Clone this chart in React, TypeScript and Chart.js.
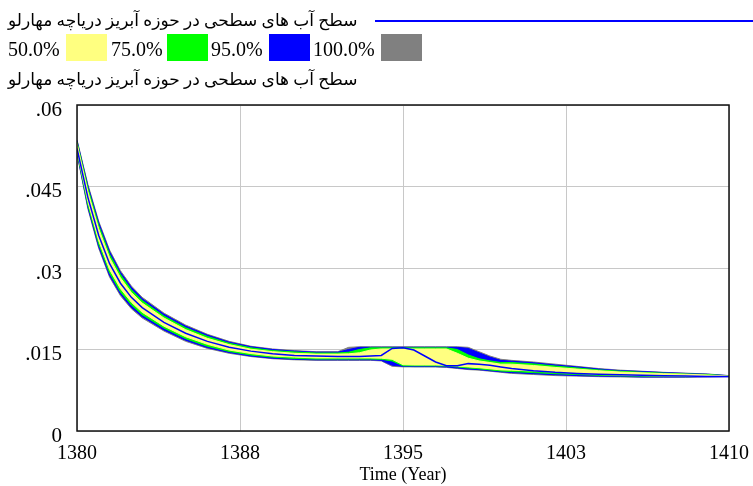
import { useEffect, useRef } from 'react';
import { Chart, registerables } from 'chart.js';

Chart.register(...registerables);

const seriesName = 'سطح آب های سطحی در حوزه آبریز دریاچه مهارلو';
const legendLabels = ['50.0%', '75.0%', '95.0%', '100.0%'];
const bandColors = ['#ffff80', '#00ff00', '#0000ff', '#808080'];
const baseColor = '#0000ff';

const xTickValues = [1380, 1387.5, 1395, 1402.5, 1410];
const xTickLabels = ['1380', '1388', '1395', '1403', '1410'];
const yTickValues = [0, 0.015, 0.03, 0.045, 0.06];
const yTickLabels = ['0', '.015', '.03', '.045', '.06'];
const xTitle = 'Time (Year)';

const years = [
  1380, 1380.5, 1381, 1381.5, 1382, 1382.5, 1383, 1384, 1385, 1386, 1387, 1388, 1389, 1390, 1391, 1392,
  1392.5, 1393, 1393.5, 1394, 1394.5, 1395, 1395.5, 1396, 1396.5, 1397, 1397.5, 1398, 1398.5, 1399, 1399.5,
  1400, 1401, 1402, 1403, 1404, 1405, 1406, 1407, 1408, 1409, 1410,
];

const hi100 = [
  0.0536, 0.0454, 0.0386, 0.0333, 0.0295, 0.0267, 0.0246, 0.0217, 0.0195, 0.0178, 0.0165, 0.0156, 0.0151, 0.0148, 0.0146, 0.0146,
  0.0154, 0.0155, 0.0155, 0.0155, 0.0155, 0.0155, 0.0155, 0.0155, 0.0155, 0.0155, 0.0155, 0.0154, 0.0146, 0.0138, 0.0132,
  0.0130, 0.0127, 0.0123, 0.0119, 0.0115, 0.0112, 0.0110, 0.0108, 0.01065, 0.0105, 0.0102,
];
const hi95 = [
  0.05345, 0.0451, 0.0383, 0.0330, 0.0292, 0.02645, 0.02435, 0.0215, 0.0193, 0.01765, 0.01635, 0.0155, 0.0150, 0.0147, 0.0145, 0.0145,
  0.0150, 0.0154, 0.0154, 0.0154, 0.0154, 0.0154, 0.0154, 0.0154, 0.0154, 0.0154, 0.0154, 0.0152, 0.0144, 0.0136, 0.0130,
  0.01285, 0.01255, 0.01215, 0.0118, 0.0114, 0.0111, 0.01095, 0.01075, 0.0106, 0.01045, 0.01018,
];
const hi75 = [
  0.0532, 0.0447, 0.0378, 0.0325, 0.0288, 0.0260, 0.0240, 0.02115, 0.0190, 0.0174, 0.01615, 0.0153, 0.0148, 0.01455, 0.01435, 0.01435,
  0.0145, 0.0150, 0.0153, 0.0153, 0.0153, 0.0153, 0.0153, 0.0153, 0.0153, 0.0153, 0.0150, 0.0140, 0.0133, 0.0129, 0.0126,
  0.0126, 0.01235, 0.01195, 0.0116, 0.01125, 0.0110, 0.0108, 0.01065, 0.0105, 0.0104, 0.01015,
];
const hi50 = [
  0.0529, 0.0441, 0.0372, 0.0319, 0.0282, 0.0255, 0.02355, 0.0208, 0.01865, 0.01705, 0.0159, 0.01505, 0.0146, 0.0143, 0.01415, 0.01415,
  0.0142, 0.0144, 0.0149, 0.0151, 0.0151, 0.0151, 0.0151, 0.0151, 0.0151, 0.0151, 0.0143, 0.0134, 0.0129, 0.0126, 0.0123,
  0.0123, 0.01205, 0.0117, 0.0114, 0.0111, 0.01085, 0.0107, 0.01055, 0.01045, 0.0103, 0.01012,
];
const lo50 = [
  0.0517, 0.0422, 0.0350, 0.0297, 0.0262, 0.0237, 0.02185, 0.0193, 0.01735, 0.01595, 0.0149, 0.01425, 0.0138, 0.0136, 0.01345, 0.01345,
  0.01345, 0.01345, 0.01345, 0.0134, 0.0132, 0.0122, 0.01215, 0.01215, 0.01215, 0.0121, 0.01195, 0.0118, 0.01165, 0.01145, 0.01125,
  0.0112, 0.01105, 0.0108, 0.0106, 0.0104, 0.0103, 0.0102, 0.01015, 0.0101, 0.0101, 0.01005,
];
const lo75 = [
  0.0514, 0.0416, 0.0344, 0.0291, 0.0256, 0.0232, 0.0214, 0.01895, 0.0170, 0.0156, 0.01465, 0.0140, 0.0136, 0.01335, 0.01325, 0.01325,
  0.01325, 0.01325, 0.01325, 0.0132, 0.0129, 0.0120, 0.0120, 0.0120, 0.0120, 0.01195, 0.0118, 0.0116, 0.01145, 0.01125, 0.01105,
  0.01095, 0.01075, 0.01055, 0.0104, 0.01025, 0.01015, 0.0101, 0.01005, 0.0100, 0.01005, 0.01003,
];
const lo95 = [
  0.05115, 0.0412, 0.0339, 0.0286, 0.0252, 0.02275, 0.02105, 0.0186, 0.0167, 0.01535, 0.01445, 0.0138, 0.0134, 0.0132, 0.0131, 0.0131,
  0.0131, 0.0131, 0.0131, 0.0130, 0.0121, 0.0119, 0.01185, 0.01185, 0.01185, 0.0118, 0.0116, 0.0114, 0.0113, 0.0111, 0.0109,
  0.01075, 0.01055, 0.01035, 0.0102, 0.0101, 0.01005, 0.00995, 0.00995, 0.00995, 0.0100, 0.01001,
];
const lo100 = [
  0.0510, 0.0409, 0.0336, 0.0283, 0.0249, 0.0225, 0.0208, 0.0184, 0.0165, 0.0152, 0.0143, 0.0137, 0.0133, 0.0131, 0.0130, 0.0130,
  0.0130, 0.0130, 0.0130, 0.0129, 0.0119, 0.0118, 0.0118, 0.0118, 0.0118, 0.0117, 0.0115, 0.0113, 0.0112, 0.0110, 0.0108,
  0.0106, 0.0104, 0.0102, 0.0101, 0.0100, 0.00995, 0.0099, 0.0099, 0.0099, 0.00995, 0.0100,
];
const baseRun = [
  0.0520, 0.0430, 0.0360, 0.0308, 0.0272, 0.0246, 0.0227, 0.0200, 0.0180, 0.0165, 0.0154, 0.0147, 0.0142, 0.0139, 0.0138, 0.0137,
  0.0137, 0.0137, 0.0138, 0.0139, 0.0152, 0.0153, 0.0149, 0.0138, 0.0127, 0.0120, 0.0120, 0.0124, 0.0123, 0.0121, 0.0118,
  0.0115, 0.0111, 0.0108, 0.0106, 0.01045, 0.01035, 0.01025, 0.01015, 0.0101, 0.01005, 0.01005,
];

const serif = '"Liberation Serif", "Times New Roman", serif';
const arabicFont = '"Liberation Serif", "DejaVu Sans", serif';

export default function App() {
  const ref = useRef<HTMLCanvasElement>(null);

  useEffect(() => {
    if (!ref.current) return;
    const pts = (arr: number[]) => years.map((x, i) => ({ x, y: arr[i] }));
    const band = (upper: number[], lower: number[], color: string, order: number) => [
      {
        data: pts(upper),
        fill: '+1',
        backgroundColor: color,
        borderColor: color,
        borderWidth: 1,
        pointRadius: 0,
        tension: 0,
        order,
      },
      {
        data: pts(lower),
        fill: false,
        borderColor: color,
        borderWidth: 1,
        pointRadius: 0,
        tension: 0,
        order,
      },
    ];

    const frame = {
      id: 'frame',
      afterDatasetsDraw(chart: any) {
        const { ctx, chartArea } = chart;
        const { left, top, right, bottom } = chartArea;
        ctx.save();
        ctx.strokeStyle = '#111';
        ctx.lineWidth = 1.5;
        ctx.strokeRect(left, top, right - left, bottom - top);
        ctx.restore();
      },
    };

    const chart = new Chart(ref.current, {
      type: 'line',
      data: {
        datasets: [
          ...band(hi100, lo100, bandColors[3], 4),
          ...band(hi95, lo95, bandColors[2], 3),
          ...band(hi75, lo75, bandColors[1], 2),
          ...band(hi50, lo50, bandColors[0], 1),
          {
            data: pts(baseRun),
            fill: false,
            borderColor: baseColor,
            borderWidth: 1.5,
            pointRadius: 0,
            tension: 0,
            order: 0,
          },
        ] as any,
      },
      options: {
        animation: false,
        responsive: false,
        events: [],
        layout: { padding: { top: 105, right: 24, left: 0, bottom: 0 } },
        plugins: {
          legend: { display: false },
          tooltip: { enabled: false },
          title: { display: false },
        },
        scales: {
          x: {
            type: 'linear',
            min: 1380,
            max: 1410,
            afterBuildTicks: (s: any) => {
              s.ticks = xTickValues.map((v) => ({ value: v }));
            },
            afterFit: (s: any) => {
              s.height = 55;
              s.paddingLeft = 0;
              s.paddingRight = 0;
            },
            grid: { color: '#c8c8c8', lineWidth: 1, drawTicks: false },
            border: { display: false },
            ticks: {
              callback: (_v: any, i: number) => xTickLabels[i],
              maxRotation: 0,
              autoSkip: false,
              padding: 11,
              color: '#000',
              font: { family: serif, size: 20 },
            },
            title: {
              display: true,
              text: xTitle,
              color: '#000',
              font: { family: serif, size: 18 },
              padding: { top: 0, bottom: 0 },
            },
          },
          y: {
            type: 'linear',
            min: 0,
            max: 0.06,
            afterBuildTicks: (s: any) => {
              s.ticks = yTickValues.map((v) => ({ value: v }));
            },
            afterFit: (s: any) => {
              s.width = 77;
              s.paddingTop = 0;
              s.paddingBottom = 0;
            },
            grid: { color: '#c8c8c8', lineWidth: 1, drawTicks: false },
            border: { display: false },
            ticks: {
              callback: (_v: any, i: number) => yTickLabels[i],
              padding: 15,
              labelOffset: 5,
              autoSkip: false,
              color: '#000',
              font: { family: serif, size: 21 },
            },
          },
        },
      } as any,
      plugins: [frame],
    });
    return () => chart.destroy();
  }, []);

  const legendTextLeft = [8, 111, 211, 313];
  const legendBoxLeft = [66, 167, 269, 381];

  return (
    <div style={{ position: 'absolute', left: 0, top: 0, width: 753, height: 486, background: '#fff', overflow: 'hidden' }}>
      <canvas ref={ref} width={753} height={486} style={{ position: 'absolute', left: 0, top: 0, width: 753, height: 486 }} />
      <div style={{ position: 'absolute', left: 8, top: 11, lineHeight: '20px', fontSize: 17, fontFamily: arabicFont, color: '#000', whiteSpace: 'nowrap' }}>
        {seriesName}
      </div>
      <div style={{ position: 'absolute', left: 375, top: 20, width: 378, height: 1.5, background: baseColor }} />
      {legendLabels.map((lab, i) => (
        <div key={lab}>
          <div style={{ position: 'absolute', left: legendTextLeft[i], top: 37, lineHeight: '24px', fontSize: 20, fontFamily: serif, color: '#000', whiteSpace: 'nowrap' }}>
            {lab}
          </div>
          <div style={{ position: 'absolute', left: legendBoxLeft[i], top: 34, width: 41, height: 27, background: bandColors[i] }} />
        </div>
      ))}
      <div style={{ position: 'absolute', left: 8, top: 70, lineHeight: '20px', fontSize: 17, fontFamily: arabicFont, color: '#000', whiteSpace: 'nowrap' }}>
        {seriesName}
      </div>
    </div>
  );
}
